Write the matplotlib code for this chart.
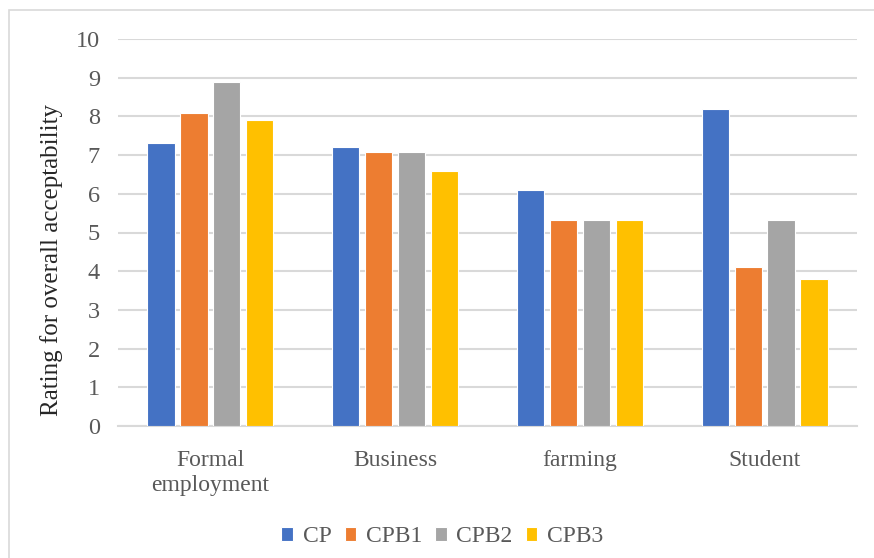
import numpy as np
import matplotlib
matplotlib.use("Agg")
import matplotlib.pyplot as plt
from matplotlib.patches import Rectangle

# data
categories = ["Formal\nemployment", "Business", "farming", "Student"]
series = ["CP", "CPB1", "CPB2", "CPB3"]
cp = [7.3, 7.2, 6.1, 8.2]
cpb1 = [8.1, 7.07, 5.33, 4.1]
cpb2 = [8.9, 7.07, 5.33, 5.33]
cpb3 = [7.9, 6.6, 5.33, 3.8]
colors = ["#4472C4", "#ED7D31", "#A5A5A5", "#FFC000"]

plt.rcParams['font.family'] = ['Liberation Serif', 'DejaVu Serif']
txt = "#595959"

fig = plt.figure(figsize=(8.74, 5.58), dpi=100)
ax = fig.add_axes([118 / 874, 1 - 426 / 558, (857 - 118) / 874, (426 - 39) / 558])

x = np.arange(len(categories))
step = 0.178
width = 0.148
for i, (name, vals) in enumerate(zip(series, [cp, cpb1, cpb2, cpb3])):
    ax.bar(x + (i - 1.5) * step, vals, width, color=colors[i], label=name,
           edgecolor="white", linewidth=0.8, zorder=3)

ax.set_xlim(-0.5, 3.5)
ax.set_ylim(0, 10)
ax.set_yticks(range(0, 11))
ax.yaxis.grid(True, color="#d9d9d9", linewidth=1.5, zorder=0)
ax.set_xticks(x)
ax.set_xticklabels(categories, fontsize=17, color=txt, linespacing=1.3)
ax.tick_params(axis="y", labelsize=17.5, labelcolor=txt, length=0, pad=13)
ax.tick_params(axis="x", length=0, pad=17)
for s in ["top", "right", "left"]:
    ax.spines[s].set_visible(False)
ax.spines["bottom"].set_color("#d9d9d9")
ax.spines["bottom"].set_linewidth(1.5)
ax.set_ylabel("Rating for overall acceptability", fontsize=18, color="#262626", labelpad=8)
ax.yaxis.set_label_coords(-0.075, 0.43)

fig.legend(loc="center", bbox_to_anchor=(0.506, 1 - 537 / 558), ncol=4, frameon=False,
           fontsize=17, handlelength=0.5, handleheight=0.5, handletextpad=0.4,
           columnspacing=0.55, labelcolor=txt)

# chart border
fig.patches.append(Rectangle((9 / 874, -0.1), 1.2, 1.1 - 10 / 558, transform=fig.transFigure,
                             fill=False, edgecolor="#d9d9d9", linewidth=1.2))

fig.savefig("out.png", dpi=100)
